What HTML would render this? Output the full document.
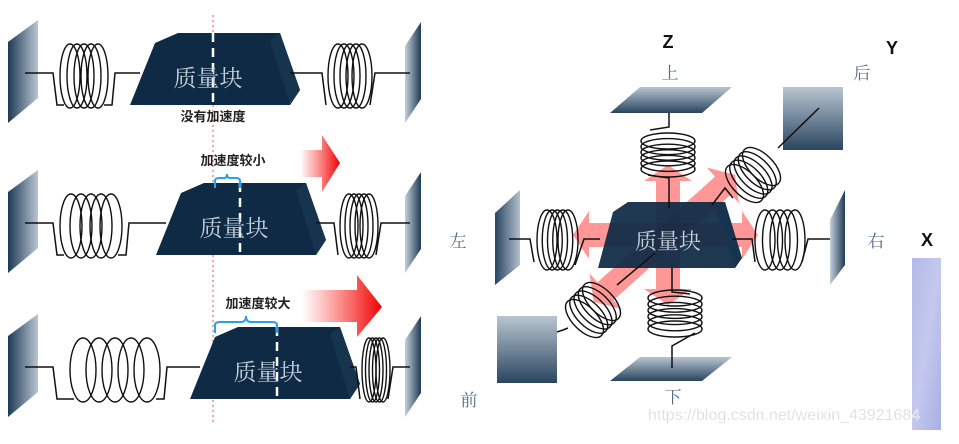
<!DOCTYPE html>
<html><head><meta charset="utf-8">
<style>
html,body{margin:0;padding:0;background:#fff;}
svg{display:block;}
.cn{font-family:"Liberation Serif","Noto Serif CJK SC",serif;}
.cs{font-family:"Liberation Sans","Noto Sans CJK SC",sans-serif;}
</style></head>
<body>
<svg id="s" width="959" height="444" viewBox="0 0 959 444" xmlns="http://www.w3.org/2000/svg">
<defs>
<linearGradient id="wl" x1="0" y1="0" x2="1" y2="0"><stop offset="0" stop-color="#1f3a55"/><stop offset="1" stop-color="#b8c6d2"/></linearGradient>
<linearGradient id="wr" x1="0" y1="0" x2="1" y2="0"><stop offset="0" stop-color="#c4d0da"/><stop offset="1" stop-color="#1f3a55"/></linearGradient>
<linearGradient id="pv" x1="0" y1="0" x2="0" y2="1"><stop offset="0" stop-color="#b9c6d1"/><stop offset="1" stop-color="#2a4560"/></linearGradient>
<linearGradient id="ph" x1="0" y1="0" x2="1" y2="0"><stop offset="0" stop-color="#2a4560"/><stop offset="1" stop-color="#b0bfcc"/></linearGradient>
<linearGradient id="ra" x1="0" y1="0" x2="1" y2="0"><stop offset="0" stop-color="#ff2020" stop-opacity="0"/><stop offset="1" stop-color="#f00000"/></linearGradient>
<linearGradient id="xb" x1="0" y1="0" x2="1" y2="1"><stop offset="0" stop-color="#b4bae8"/><stop offset="0.5" stop-color="#c4c8ee"/><stop offset="1" stop-color="#a8b0e2"/></linearGradient>
</defs>
<line x1="213" y1="15" x2="213" y2="425" stroke="#e05050" stroke-width="1" stroke-dasharray="2,3"/>
<g id="left"></g>
<text x="213" y="121" class="cs" font-size="13" font-weight="bold" text-anchor="middle" fill="#222">没有加速度</text>
<text x="233" y="165" class="cs" font-size="13" font-weight="bold" text-anchor="middle" fill="#222">加速度较小</text>
<path d="M215,188 V181 Q215,178 219,178 H224 Q227,178 227,174 Q227,178 230,178 H236 Q240,178 240,181 V188" fill="none" stroke="#2a9ff0" stroke-width="2"/>
<text x="258" y="308" class="cs" font-size="13" font-weight="bold" text-anchor="middle" fill="#222">加速度较大</text>
<path d="M215,333 V325 Q215,322 220,322 H241 Q246,322 246,316 Q246,322 251,322 H272 Q277,322 277,325 V333" fill="none" stroke="#2a9ff0" stroke-width="2"/>
<polygon points="300,150 322,150 322,135 340,163 322,192 322,177 300,177" fill="url(#ra)"/>
<polygon points="302,290 357,290 357,275 382,307 357,337 357,322 302,322" fill="url(#ra)"/>
<g id="right"></g>
<text x="668" y="48" class="cs" font-size="18" font-weight="bold" text-anchor="middle" fill="#111">Z</text>
<text x="892" y="54" class="cs" font-size="18" font-weight="bold" text-anchor="middle" fill="#111">Y</text>
<text x="927" y="246" class="cs" font-size="18" font-weight="bold" text-anchor="middle" fill="#111">X</text>
<text x="670" y="79" class="cn" font-size="17" text-anchor="middle" fill="#4f6a88">上</text>
<text x="862" y="79" class="cn" font-size="17" text-anchor="middle" fill="#4f6a88">后</text>
<text x="458" y="247" class="cn" font-size="17" text-anchor="middle" fill="#4f6a88">左</text>
<text x="876" y="247" class="cn" font-size="17" text-anchor="middle" fill="#4f6a88">右</text>
<text x="469" y="406" class="cn" font-size="17" text-anchor="middle" fill="#4f6a88">前</text>
<text x="673" y="403" class="cn" font-size="17" text-anchor="middle" fill="#4f6a88">下</text>
<rect x="912" y="258" width="29" height="172" fill="url(#xb)"/>
<text x="648" y="420" class="cs" font-size="16" fill="#d8d8d8" stroke="#fff" stroke-width="0.3">https://blog.csdn.net/weixin_43921684</text>
</svg>
<script>
var NS="http://www.w3.org/2000/svg";
function el(p,t,a){var e=document.createElementNS(NS,t);for(var k in a)e.setAttribute(k,a[k]);p.appendChild(e);return e;}
var L=document.getElementById('left'),R=document.getElementById('right');
function coilH(g,x1,x2,cy,ry,n,rx){
  var s=(x2-x1-2*rx)/(n-1);
  for(var i=0;i<n;i++)el(g,'ellipse',{cx:x1+rx+i*s,cy:cy,rx:rx,ry:ry,fill:'none',stroke:'#111','stroke-width':1.4});
}
function coilV(g,y1,y2,cx,rx,n,ry){
  var s=(y2-y1-2*ry)/(n-1);
  for(var i=0;i<n;i++)el(g,'ellipse',{cx:cx,cy:y1+ry+i*s,rx:rx,ry:ry,fill:'none',stroke:'#111','stroke-width':1.4});
}
function line(g,pts){el(g,'polyline',{points:pts,fill:'none',stroke:'#111','stroke-width':1.5});}
function block(g,dx,dy,cx){
  el(g,'polygon',{points:(130+dx)+','+(105+dy)+' '+(155+dx)+','+(43+dy)+' '+(178+dx)+','+(33+dy)+' '+(280+dx)+','+(33+dy)+' '+(300+dx)+','+(90+dy)+' '+(290+dx)+','+(105+dy),fill:'#0e2a45'});
  el(g,'polygon',{points:(270+dx)+','+(40+dy)+' '+(280+dx)+','+(33+dy)+' '+(300+dx)+','+(90+dy)+' '+(290+dx)+','+(105+dy),fill:'#17344f'});
  el(g,'line',{x1:cx,y1:33+dy,x2:cx,y2:105+dy,stroke:'#fff','stroke-width':2.5,'stroke-dasharray':'9,6'});
  var t=el(g,'text',{x:208+dx,y:86+dy,'font-size':23,'text-anchor':'middle',fill:'#c5d0dc','class':'cn'});t.textContent='质量块';
}
var rows=[{dy:0,dx:0,c:213,l:[60,108],lr:10,r:[328,372],rr:10},{dy:150,dx:26,c:240,l:[60,122],lr:11,r:[340,378],rr:9},{dy:294,dx:60,c:277,l:[70,160],lr:13,r:[362,390],rr:7}];
rows.forEach(function(r){
  var dy=r.dy,y=73+dy;
  el(L,'polygon',{points:'8,'+(42+dy)+' 38,'+(20+dy)+' 38,'+(98+dy)+' 8,'+(123+dy),fill:'url(#wl)'});
  el(L,'polygon',{points:'405,'+(46+dy)+' 421,'+(22+dy)+' 421,'+(99+dy)+' 405,'+(123+dy),fill:'url(#wr)'});
  line(L,'25,'+y+' 53,'+y+' 57,'+(105+dy)+' '+(r.l[0]+4)+','+(105+dy));
  coilH(L,r.l[0],r.l[1],76+dy,32,5,r.lr);
  line(L,(r.l[1]-4)+','+(105+dy)+' '+(r.l[1]+4)+','+(105+dy)+' '+(r.l[1]+7)+','+y+' '+(140+r.dx)+','+y);
  block(L,r.dx,dy,r.c);
  line(L,(290+r.dx)+','+y+' '+(r.r[0]-6)+','+y+' '+(r.r[0]-2)+','+(105+dy));
  coilH(L,r.r[0],r.r[1],76+dy,32,5,r.rr);
  line(L,(r.r[1]-2)+','+(105+dy)+' '+(r.r[1]+3)+','+y+' 410,'+y);
});
function parrow(cx,cy,ang,len){
  var g=el(R,'g',{transform:'translate('+cx+','+cy+') rotate('+ang+')',opacity:0.5});
  el(g,'polygon',{points:'0,-12 '+(len-16)+',-12 '+(len-16)+',-24 '+len+',0 '+(len-16)+',24 '+(len-16)+',12 0,12',fill:'#ff3030'});
}
parrow(668,235,-90,70);parrow(668,235,90,70);parrow(668,235,180,95);parrow(668,235,0,90);parrow(668,235,-42,90);parrow(668,235,138,100);
el(R,'polygon',{points:'610,113 640,87 732,87 702,113',fill:'url(#pv)'});
el(R,'polygon',{points:'610,381 640,357 732,357 702,381',fill:'url(#pv)'});
el(R,'rect',{x:783,y:87,width:60,height:63,fill:'url(#pv)'});
el(R,'rect',{x:497,y:316,width:60,height:67,fill:'url(#pv)'});
el(R,'polygon',{points:'495,213 520,190 520,265 495,285',fill:'url(#ph)'});
el(R,'polygon',{points:'830,220 845,190 845,265 830,285',fill:'url(#wr)'});
el(R,'polygon',{points:'598,268 613,212 628,202 725,202 742,258 735,268',fill:'#0e2a45',opacity:0.93});
el(R,'polygon',{points:'715,208 725,202 742,258 735,268',fill:'#17344f'});
var t=el(R,'text',{x:668,y:249,'font-size':22,'text-anchor':'middle',fill:'#c5d0dc','class':'cn'});t.textContent='质量块';
line(R,'669,113 669,127 650,130');coilV(R,133,177,668,27,6,8);line(R,'648,175 669,178 669,208');
line(R,'672,268 672,292 690,294');coilV(R,290,337,675,27,6,8);line(R,'695,333 672,346 672,368');
line(R,'509,239 530,239 534,262');coilH(R,537,578,240,30,5,10);line(R,'575,265 584,239 600,239');
line(R,'732,239 752,239 755,262');coilH(R,755,805,240,30,5,10);line(R,'802,262 808,239 830,239');
var g1=el(R,'g',{transform:'translate(753,175) rotate(-45)'});coilH(g1,-24,24,0,24,5,12);
line(R,'819,108 778,148');line(R,'733,198 725,188 712,205');
var g2=el(R,'g',{transform:'translate(593,310) rotate(-45)'});coilH(g2,-24,24,0,24,5,12);
line(R,'557,332 563,330 568,328');line(R,'617,285 655,253');
</script>
</body></html>
